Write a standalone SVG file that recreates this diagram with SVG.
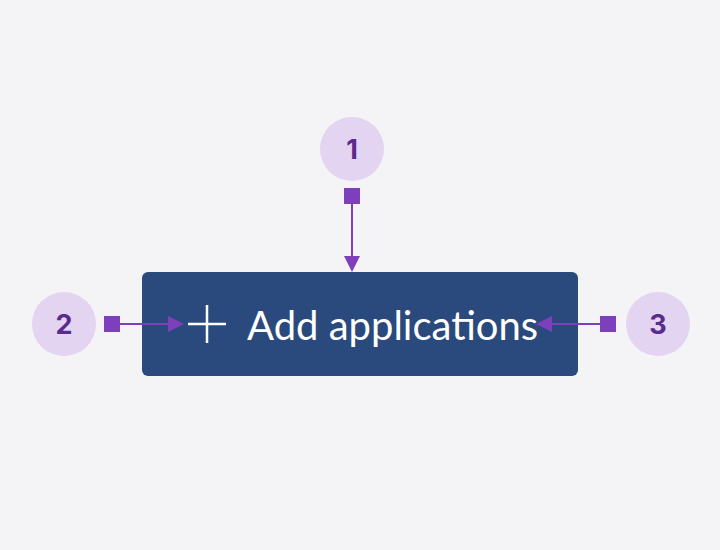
<svg xmlns="http://www.w3.org/2000/svg" width="720" height="550" viewBox="0 0 720 550">
<style>
.badge circle{fill:#e3d4f1}
.badge text{font-family:Inter,"Liberation Sans",sans-serif;font-weight:bold;font-size:27px;fill:#5a2a8c;text-anchor:middle}
.conn line{stroke:#7e3fbd;stroke-width:2}
.conn rect{fill:#7e3fbd}
.conn polygon{fill:#7e3fbd}
</style>
<rect width="720" height="550" fill="#f4f4f6"/>
<g id="button">
<rect x="142" y="272" width="436" height="104" rx="6" fill="#2a4a7e"/>
<path d="M188 324H226M207 305V343" stroke="#ffffff" stroke-width="2.5" fill="none"/>
<text x="247" y="340" font-family="Lato,'Liberation Sans',sans-serif" font-size="40" fill="#ffffff">Add applications</text>
</g>
<g id="badge1" class="badge"><circle cx="352" cy="149" r="32"/><text x="352" y="158.5">1</text></g>
<g id="badge2" class="badge"><circle cx="64" cy="324" r="32"/><text x="64" y="333.5">2</text></g>
<g id="badge3" class="badge"><circle cx="658" cy="324" r="32"/><text x="658" y="333.5">3</text></g>
<g id="connectors" class="conn">
<rect x="344" y="188" width="16" height="16"/>
<line x1="352" y1="204" x2="352" y2="258"/>
<polygon points="344,256 360,256 352,272"/>
<rect x="104" y="316" width="16" height="16"/>
<line x1="120" y1="324" x2="170" y2="324"/>
<polygon points="168,316 168,332 184,324"/>
<rect x="600" y="316" width="16" height="16"/>
<line x1="600" y1="324" x2="550" y2="324"/>
<polygon points="552,316 552,332 536,324"/>
</g>
</svg>
